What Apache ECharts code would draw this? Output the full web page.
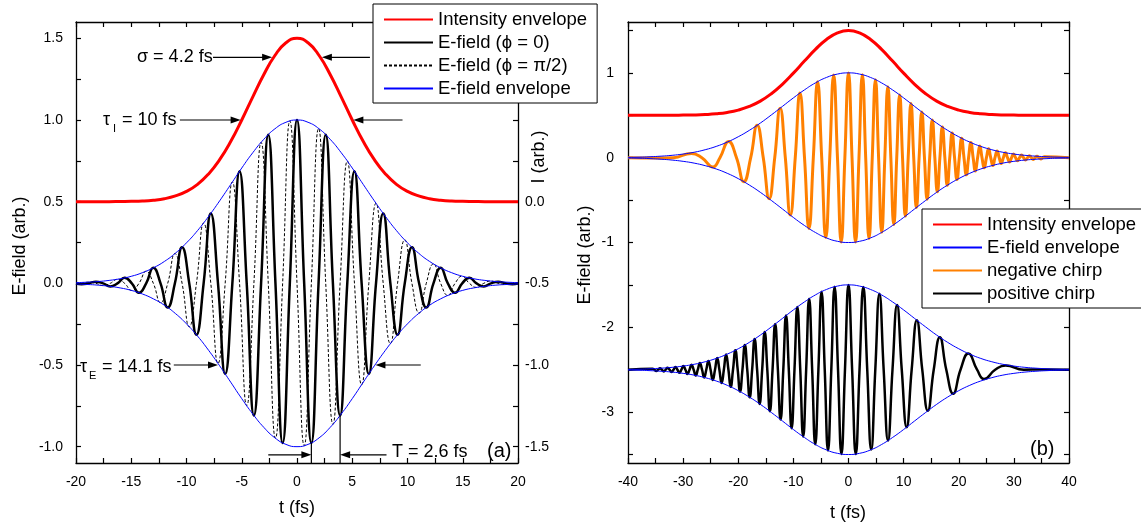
<!DOCTYPE html>
<html>
<head>
<meta charset="utf-8">
<script src="https://cdn.jsdelivr.net/npm/echarts@6/dist/echarts.min.js"></script>
<style>
  html, body { margin: 0; padding: 0; background: #fff; }
  #chart { width: 1141px; height: 529px; }
</style>
</head>
<body>
<div id="chart"></div>
<script>
const FONT = '"Liberation Sans", Arial, Helvetica, sans-serif';

// ---------- Panel (a): transform-limited 10 fs pulse ----------
const timeA = [-20,-19,-18,-17,-16,-15,-14,-13,-12,-11,-10,-9,-8,-7,-6,-5,-4,-3,-2,-1,0,
               1,2,3,4,5,6,7,8,9,10,11,12,13,14,15,16,17,18,19,20];
// intensity envelope, read against the right-hand I axis
const intensityA = [0,0,0,0,0.001,0.002,0.004,0.009,0.018,0.035,0.063,0.106,0.170,0.257,0.368,0.500,0.642,0.779,0.895,0.973,1.000,
                    0.973,0.895,0.779,0.642,0.500,0.368,0.257,0.170,0.106,0.063,0.035,0.018,0.009,0.004,0.002,0.001,0,0,0,0];
const envelopeUpperA = [0.004,0.007,0.011,0.018,0.028,0.043,0.065,0.095,0.134,0.185,0.248,0.323,0.410,0.505,0.605,0.706,0.800,0.882,0.946,0.986,1.000,
                        0.986,0.946,0.882,0.800,0.706,0.605,0.505,0.410,0.323,0.248,0.185,0.134,0.095,0.065,0.043,0.028,0.018,0.011,0.007,0.004];
const envelopeLowerA = [-0.004,-0.007,-0.011,-0.018,-0.028,-0.043,-0.065,-0.095,-0.134,-0.185,-0.248,-0.323,-0.410,-0.505,-0.605,-0.706,-0.800,-0.882,-0.946,-0.986,-1.000,
                        -0.986,-0.946,-0.882,-0.800,-0.706,-0.605,-0.505,-0.410,-0.323,-0.248,-0.185,-0.134,-0.095,-0.065,-0.043,-0.028,-0.018,-0.011,-0.007,-0.004];
// carrier field, extrema and zero crossings [t, E]
const fieldPhase0 = [[-20,-0.001],[-19.5,-0.005],[-18.85,0],[-18.2,0.010],[-17.55,0],[-16.9,-0.019],[-16.25,0],[-15.6,0.034],[-14.95,0],[-14.3,-0.058],
  [-13.65,0],[-13,0.095],[-12.35,0],[-11.7,-0.148],[-11.05,0],[-10.4,0.221],[-9.75,0],[-9.1,-0.315],[-8.45,0],[-7.8,0.428],[-7.15,0],[-6.5,-0.555],
  [-5.85,0],[-5.2,0.686],[-4.55,0],[-3.9,-0.809],[-3.25,0],[-2.6,0.910],[-1.95,0],[-1.3,-0.977],[-0.65,0],[0,1],[0.65,0],[1.3,-0.977],[1.95,0],
  [2.6,0.910],[3.25,0],[3.9,-0.809],[4.55,0],[5.2,0.686],[5.85,0],[6.5,-0.555],[7.15,0],[7.8,0.428],[8.45,0],[9.1,-0.315],[9.75,0],[10.4,0.221],
  [11.05,0],[11.7,-0.148],[12.35,0],[13,0.095],[13.65,0],[14.3,-0.058],[14.95,0],[15.6,0.034],[16.25,0],[16.9,-0.019],[17.55,0],[18.2,0.010],
  [18.85,0],[19.5,-0.005],[20,-0.001]];
const fieldPhaseHalfPi = [[-20,-0.004],[-19.5,0],[-18.85,0.007],[-18.2,0],[-17.55,-0.014],[-16.9,0],[-16.25,0.025],[-15.6,0],[-14.95,-0.044],[-14.3,0],
  [-13.65,0.074],[-13,0],[-12.35,-0.119],[-11.7,0],[-11.05,0.182],[-10.4,0],[-9.75,-0.266],[-9.1,0],[-8.45,0.369],[-7.8,0],[-7.15,-0.490],[-6.5,0],
  [-5.85,0.621],[-5.2,0],[-4.55,-0.749],[-3.9,0],[-3.25,0.863],[-2.6,0],[-1.95,-0.948],[-1.3,0],[-0.65,0.994],[0,0],[0.65,-0.994],[1.3,0],
  [1.95,0.948],[2.6,0],[3.25,-0.863],[3.9,0],[4.55,0.749],[5.2,0],[5.85,-0.621],[6.5,0],[7.15,0.490],[7.8,0],[8.45,-0.369],[9.1,0],[9.75,0.266],
  [10.4,0],[11.05,-0.182],[11.7,0],[12.35,0.119],[13,0],[13.65,-0.074],[14.3,0],[14.95,0.044],[15.6,0],[16.25,-0.025],[16.9,0],[17.55,0.014],
  [18.2,0],[18.85,-0.007],[19.5,0],[20,0.004]];

// ---------- Panel (b): chirped pulses ----------
const timeB = [-40,-38,-36,-34,-32,-30,-28,-26,-24,-22,-20,-18,-16,-14,-12,-10,-8,-6,-4,-2,0,
               2,4,6,8,10,12,14,16,18,20,22,24,26,28,30,32,34,36,38,40];
const intensityB = [0.5,0.5,0.5,0.5,0.5,0.502,0.504,0.509,0.518,0.534,0.561,0.604,0.667,0.754,0.865,0.997,1.139,1.277,1.394,1.472,1.5,
                    1.472,1.394,1.277,1.139,0.997,0.865,0.754,0.667,0.604,0.561,0.534,0.518,0.509,0.504,0.502,0.5,0.5,0.5,0.5,0.5];
const envelopeUpperB = [0.004,0.006,0.011,0.018,0.028,0.043,0.064,0.094,0.133,0.184,0.247,0.322,0.408,0.504,0.604,0.705,0.799,0.882,0.946,0.986,1,
                        0.986,0.946,0.882,0.799,0.705,0.604,0.504,0.408,0.322,0.247,0.184,0.133,0.094,0.064,0.043,0.028,0.018,0.011,0.006,0.004];
const envelopeLowerB = [-0.004,-0.006,-0.011,-0.018,-0.028,-0.043,-0.064,-0.094,-0.133,-0.184,-0.247,-0.322,-0.408,-0.504,-0.604,-0.705,-0.799,-0.882,-0.946,-0.986,-1,
                        -0.986,-0.946,-0.882,-0.799,-0.705,-0.604,-0.504,-0.408,-0.322,-0.247,-0.184,-0.133,-0.094,-0.064,-0.043,-0.028,-0.018,-0.011,-0.006,-0.004];
const envelopeUpperPos = [-2.496,-2.494,-2.489,-2.482,-2.472,-2.457,-2.436,-2.406,-2.367,-2.316,-2.253,-2.178,-2.092,-1.996,-1.896,-1.795,-1.701,-1.618,-1.554,-1.514,-1.5,
                          -1.514,-1.554,-1.618,-1.701,-1.795,-1.896,-1.996,-2.092,-2.178,-2.253,-2.316,-2.367,-2.406,-2.436,-2.457,-2.472,-2.482,-2.489,-2.494,-2.496];
const envelopeLowerPos = [-2.504,-2.506,-2.511,-2.518,-2.528,-2.543,-2.564,-2.594,-2.633,-2.684,-2.747,-2.822,-2.908,-3.004,-3.104,-3.205,-3.299,-3.382,-3.446,-3.486,-3.5,
                          -3.486,-3.446,-3.382,-3.299,-3.205,-3.104,-3.004,-2.908,-2.822,-2.747,-2.684,-2.633,-2.594,-2.564,-2.543,-2.528,-2.518,-2.511,-2.506,-2.504];
const negativeChirp = [[-40,0],[-35,-0.003],[-31.8,0],[-28.5,0.05],[-26.6,0],[-24.6,-0.11],[-23.32,0],[-21.75,0.191],[-20.32,0],[-18.99,-0.283],
  [-17.74,0],[-16.57,0.383],[-15.46,0],[-14.39,-0.484],[-13.38,0],[-12.40,0.584],[-11.46,0],[-10.55,-0.677],[-9.66,0],[-8.81,0.762],[-7.98,0],
  [-7.17,-0.835],[-6.38,0],[-5.61,0.896],[-4.86,0],[-4.12,-0.942],[-3.40,0],[-2.69,0.975],[-2.00,0],[-1.32,-0.994],[-0.66,0],[0,1],[0.64,0],
  [1.28,-0.994],[1.90,0],[2.52,0.978],[3.12,0],[3.72,-0.953],[4.31,0],[4.89,0.920],[5.46,0],[6.03,-0.880],[6.59,0],[7.14,0.837],[7.68,0],
  [8.22,-0.789],[8.75,0],[9.28,0.740],[9.80,0],[10.32,-0.689],[10.83,0],[11.33,0.638],[11.83,0],[12.32,-0.588],[12.81,0],[13.30,0.538],[13.78,0],
  [14.26,-0.491],[14.73,0],[15.20,0.445],[15.66,0],[16.12,-0.403],[16.58,0],[17.03,0.362],[17.48,0],[17.92,-0.325],[18.37,0],[18.80,0.290],
  [19.24,0],[19.67,-0.258],[20.10,0],[20.52,0.229],[20.95,0],[21.37,-0.202],[21.78,0],[22.20,0.178],[22.61,0],[23.01,-0.157],[23.42,0],
  [23.82,0.137],[24.22,0],[24.62,-0.120],[25.02,0],[25.41,0.104],[25.80,0],[26.19,-0.091],[26.57,0],[26.96,0.079],[27.34,0],[27.71,-0.068],
  [28.09,0],[28.47,0.059],[28.84,0],[29.21,-0.051],[29.58,0],[29.94,0.043],[30.31,0],[30.67,-0.037],[31.03,0],[31.39,0.032],[31.75,0],
  [32.10,-0.027],[32.46,0],[32.81,0.023],[33.16,0],[33.51,-0.020],[33.85,0],[34.20,0.017],[34.54,0],[34.88,-0.014],[35.22,0],[35.56,0.012],[40,0]];
const positiveChirp = [[-40,-2.5],[-35.56,-2.488],[-35.22,-2.5],[-34.88,-2.514],[-34.54,-2.5],[-34.20,-2.483],[-33.85,-2.5],[-33.51,-2.52],
  [-33.16,-2.5],[-32.81,-2.477],[-32.46,-2.5],[-32.10,-2.527],[-31.75,-2.5],[-31.39,-2.468],[-31.03,-2.5],[-30.67,-2.537],[-30.31,-2.5],
  [-29.94,-2.457],[-29.58,-2.5],[-29.21,-2.551],[-28.84,-2.5],[-28.47,-2.441],[-28.09,-2.5],[-27.71,-2.568],[-27.34,-2.5],[-26.96,-2.421],
  [-26.57,-2.5],[-26.19,-2.591],[-25.80,-2.5],[-25.41,-2.396],[-25.02,-2.5],[-24.62,-2.62],[-24.22,-2.5],[-23.82,-2.363],[-23.42,-2.5],
  [-23.01,-2.657],[-22.61,-2.5],[-22.20,-2.322],[-21.78,-2.5],[-21.37,-2.702],[-20.95,-2.5],[-20.52,-2.271],[-20.10,-2.5],[-19.67,-2.758],
  [-19.24,-2.5],[-18.80,-2.21],[-18.37,-2.5],[-17.92,-2.825],[-17.48,-2.5],[-17.03,-2.138],[-16.58,-2.5],[-16.12,-2.903],[-15.66,-2.5],
  [-15.20,-2.055],[-14.73,-2.5],[-14.26,-2.991],[-13.78,-2.5],[-13.30,-1.962],[-12.81,-2.5],[-12.32,-3.088],[-11.83,-2.5],[-11.33,-1.862],
  [-10.83,-2.5],[-10.32,-3.189],[-9.80,-2.5],[-9.28,-1.76],[-8.75,-2.5],[-8.22,-3.289],[-7.68,-2.5],[-7.14,-1.663],[-6.59,-2.5],[-6.03,-3.38],
  [-5.46,-2.5],[-4.89,-1.58],[-4.31,-2.5],[-3.72,-3.453],[-3.12,-2.5],[-2.52,-1.522],[-1.90,-2.5],[-1.28,-3.494],[-0.64,-2.5],[0,-1.5],
  [0.66,-2.5],[1.32,-3.494],[2.00,-2.5],[2.69,-1.525],[3.40,-2.5],[4.12,-3.442],[4.86,-2.5],[5.61,-1.604],[6.38,-2.5],[7.17,-3.335],[7.98,-2.5],
  [8.81,-1.738],[9.66,-2.5],[10.55,-3.177],[11.46,-2.5],[12.40,-1.916],[13.38,-2.5],[14.39,-2.984],[15.46,-2.5],[16.57,-2.117],[17.74,-2.5],
  [18.99,-2.783],[20.32,-2.5],[21.75,-2.309],[23.32,-2.5],[24.6,-2.61],[26.6,-2.5],[28.5,-2.45],[31.8,-2.5],[35,-2.497],[40,-2.5]];

// ---------- tick values ----------
const ticksFieldA = [-1,-0.75,-0.5,-0.25,0,0.25,0.5,0.75,1,1.25,1.5];
const labelsFieldA = [-1,-0.5,0,0.5,1,1.5];
const ticksIntensityA = [-1.5,-1.25,-1,-0.75,-0.5,-0.25,0,0.25,0.5,0.75,1];
const labelsIntensityA = [-1.5,-1,-0.5,0];
const ticksFieldB = [-3.5,-3,-2.5,-2,-1.5,-1,-0.5,0,0.5,1,1.5];
const labelsFieldB = [-3,-2,-1,0,1];

// ---------- annotations (data units) ----------
const arrowsA = [
  { axis: 'I', from: [-7.6, 0.884], to: [-2.25, 0.884] },
  { axis: 'I', from: [6.6, 0.884], to: [2.25, 0.884] },
  { axis: 'I', from: [-10.6, 0.5], to: [-5.1, 0.5] },
  { axis: 'I', from: [9.55, 0.5], to: [5.1, 0.5] },
  { axis: 'E', from: [-11.15, -0.5], to: [-7.15, -0.5] },
  { axis: 'E', from: [11.2, -0.5], to: [7.1, -0.5] },
  { axis: 'E', from: [-2.6, -1.05], to: [1.3, -1.05] },
  { axis: 'E', from: [8.1, -1.05], to: [3.9, -1.05] }
];
const periodMarksA = [
  { from: [1.3, -0.977], to: [1.3, -1.1] },
  { from: [3.9, -0.809], to: [3.9, -1.1] }
];

const pairs = (xs, ys) => xs.map((x, i) => [x, ys[i]]);

const AXIS_LINE = { show: true, onZero: false, lineStyle: { color: '#000', width: 1.3 } };
const TICK = { show: true, inside: true, length: 5, lineStyle: { color: '#000', width: 1.2 } };
const LABEL = { color: '#000', fontSize: 14, fontFamily: FONT };

function xAxis(gridIndex, position, min, max, step, labelEvery, showLabel) {
  return {
    type: 'value', gridIndex, position, min, max, interval: step,
    axisLine: AXIS_LINE, axisTick: TICK, splitLine: { show: false },
    axisLabel: Object.assign({}, LABEL, {
      show: showLabel, margin: 12,
      formatter: v => (Math.abs(v % labelEvery) < 1e-9 ? String(v) : '')
    })
  };
}
function yAxis(gridIndex, position, min, max, ticks, labels, fmt, margin, showLabel) {
  return {
    type: 'value', gridIndex, position, min, max,
    axisLine: AXIS_LINE, splitLine: { show: false },
    axisTick: Object.assign({}, TICK, { customValues: ticks }),
    axisLabel: Object.assign({}, LABEL, { show: showLabel, margin, customValues: labels, formatter: fmt })
  };
}
function line(name, data, xi, yi, color, width, type) {
  return {
    type: 'line', name, data, xAxisIndex: xi, yAxisIndex: yi,
    smooth: true, symbol: 'none', showSymbol: false, silent: true,
    lineStyle: { color, width, type: type || 'solid' },
    itemStyle: { color }
  };
}

const chart = echarts.init(document.getElementById('chart'), null, { renderer: 'canvas' });

// line-only legend keys: the marker is shrunk below the stroke width
const legendBase = {
  orient: 'vertical', itemWidth: 49, itemHeight: 2, itemGap: 4,
  itemStyle: { opacity: 0 },
  borderColor: '#000', borderWidth: 1, backgroundColor: '#fff', borderRadius: 0,
  selectedMode: false, textStyle: { color: '#000', fontSize: 18.5, fontFamily: FONT }
};

const option = {
  animation: false,
  backgroundColor: '#fff',
  grid: [
    { left: 76, top: 22, width: 442, height: 441 },
    { left: 628, top: 22, width: 441, height: 441 }
  ],
  xAxis: [
    xAxis(0, 'bottom', -20, 20, 2.5, 5, true),
    xAxis(0, 'top', -20, 20, 2.5, 5, false),
    xAxis(1, 'bottom', -40, 40, 5, 10, true),
    xAxis(1, 'top', -40, 40, 5, 10, false)
  ],
  yAxis: [
    yAxis(0, 'left', -1.1, 1.6, ticksFieldA, labelsFieldA, v => v.toFixed(1), 13, true),
    yAxis(0, 'right', -1.6, 1.1, ticksIntensityA, labelsIntensityA, v => v.toFixed(1), 7, true),
    yAxis(1, 'left', -3.6, 1.6, ticksFieldB, labelsFieldB, v => String(v), 14, true),
    yAxis(1, 'right', -3.6, 1.6, ticksFieldB, labelsFieldB, v => String(v), 14, false)
  ],
  legend: [
    Object.assign({}, legendBase, {
      left: 373, top: 4, padding: [6, 10, 5, 10],
      data: ['Intensity envelope', 'E-field (ϕ = 0)', 'E-field (ϕ = π/2)', 'E-field envelope']
    }),
    Object.assign({}, legendBase, {
      left: 922, top: 209, padding: [6, 9, 5, 10],
      data: ['Intensity envelope', 'E-field envelope', 'negative chirp', 'positive chirp']
    })
  ],
  series: [
    line('Intensity envelope', pairs(timeA, intensityA), 0, 1, '#ff0000', 3),
    line('E-field (ϕ = 0)', fieldPhase0, 0, 0, '#000000', 2.5),
    line('E-field (ϕ = π/2)', fieldPhaseHalfPi, 0, 0, '#000000', 1, [3, 2]),
    line('E-field envelope', pairs(timeA, envelopeUpperA), 0, 0, '#0000ff', 1),
    line('E-field envelope', pairs(timeA, envelopeLowerA), 0, 0, '#0000ff', 1),

    line('Intensity envelope', pairs(timeB, intensityB), 2, 2, '#ff0000', 3),
    line('negative chirp', negativeChirp, 2, 2, '#ff8000', 3),
    line('positive chirp', positiveChirp, 2, 2, '#000000', 2.5),
    line('E-field envelope', pairs(timeB, envelopeUpperB), 2, 2, '#0000ff', 1),
    line('E-field envelope', pairs(timeB, envelopeLowerB), 2, 2, '#0000ff', 1),
    line('E-field envelope', pairs(timeB, envelopeUpperPos), 2, 2, '#0000ff', 1),
    line('E-field envelope', pairs(timeB, envelopeLowerPos), 2, 2, '#0000ff', 1)
  ]
};
chart.setOption(option);

// ---------- annotation layer ----------
function toPixel(axis, p) {
  return chart.convertToPixel({ xAxisIndex: 0, yAxisIndex: axis === 'I' ? 1 : 0 }, p);
}
function arrow(p1, p2) {
  const dx = p2[0] - p1[0], dy = p2[1] - p1[1];
  const len = Math.hypot(dx, dy), ux = dx / len, uy = dy / len;
  const head = 10, half = 3.5;
  const bx = p2[0] - ux * head, by = p2[1] - uy * head;
  return [
    { type: 'line', silent: true, z: 50,
      shape: { x1: p1[0], y1: p1[1], x2: bx + ux, y2: by + uy },
      style: { stroke: '#000', lineWidth: 1.2 } },
    { type: 'polygon', silent: true, z: 50,
      shape: { points: [[p2[0], p2[1]], [bx - uy * half, by + ux * half], [bx + uy * half, by - ux * half]] },
      style: { fill: '#000' } }
  ];
}
function text(str, x, y, size, opts) {
  const o = opts || {};
  return {
    type: 'text', silent: true, z: 50, x, y, rotation: o.rotation || 0,
    style: { text: str, fontSize: size, fontFamily: FONT, fill: '#000',
             align: o.align || 'left', verticalAlign: 'middle' }
  };
}

const elements = [];
arrowsA.forEach(a => elements.push(...arrow(toPixel(a.axis, a.from), toPixel(a.axis, a.to))));
periodMarksA.forEach(m => {
  const p1 = toPixel('E', m.from), p2 = toPixel('E', m.to);
  elements.push({ type: 'line', silent: true, z: 50,
    shape: { x1: p1[0], y1: p1[1], x2: p2[0], y2: p2[1] },
    style: { stroke: '#000', lineWidth: 1.2 } });
});

elements.push(
  text('σ = 4.2 fs', 137, 57, 18),
  text('τ', 103, 120, 18), text('I', 113, 129, 11), text(' = 10 fs', 117, 120, 18),
  text('τ', 80, 367, 18), text('E', 89, 376, 11), text(' = 14.1 fs', 97, 367, 18),
  text('T = 2.6 fs', 392, 452, 18),
  text('(a)', 487, 451, 20),
  text('(b)', 1030, 449, 20),
  text('t (fs)', 297, 508, 18, { align: 'center' }),
  text('t (fs)', 848, 513, 18, { align: 'center' }),
  text('E-field (arb.)', 20, 246, 18, { align: 'center', rotation: Math.PI / 2 }),
  text('E-field (arb.)', 585, 255, 18, { align: 'center', rotation: Math.PI / 2 }),
  text('I (arb.)', 539, 157, 18, { align: 'center', rotation: Math.PI / 2 })
);

chart.setOption({ graphic: { elements } });
</script>
</body>
</html>
